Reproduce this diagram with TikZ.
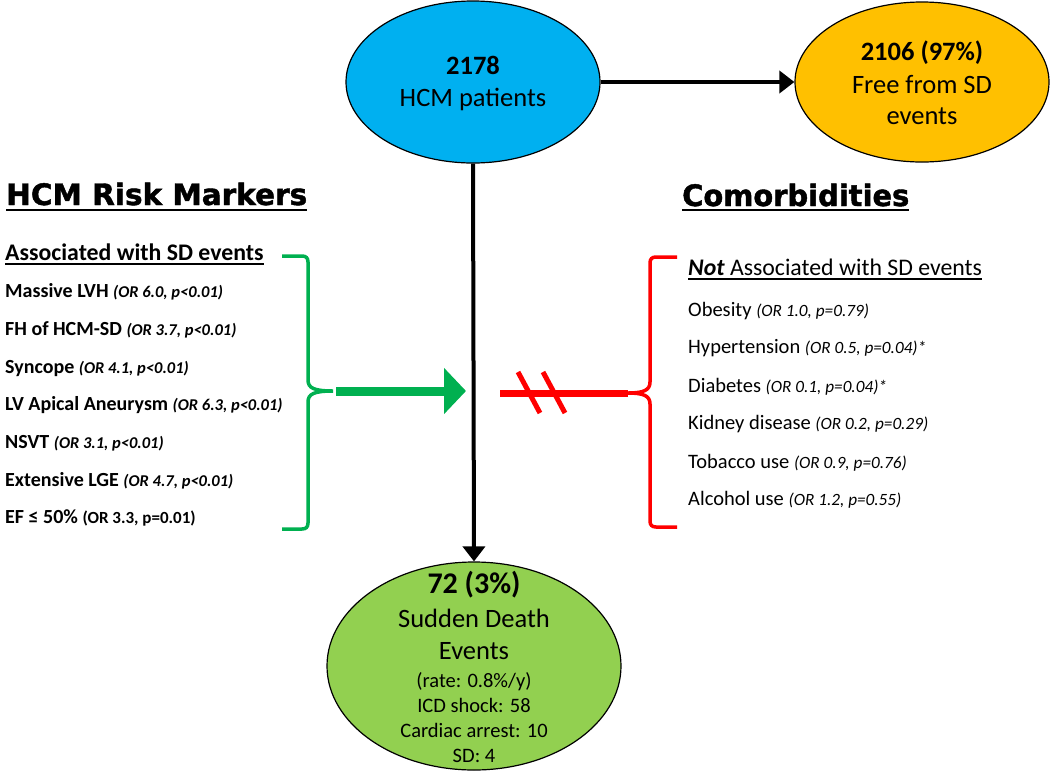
\documentclass[tikz,border=0pt]{standalone}
\usepackage{fontspec}
\setmainfont{Carlito}
\newfontfamily\headfont{DejaVu Sans}[BoldFeatures={FakeBold=1.5}]
\usetikzlibrary{shapes.geometric,arrows.meta}
\definecolor{cblue}{HTML}{00B0F0}
\definecolor{corange}{HTML}{FFC000}
\definecolor{cgreen}{HTML}{92D050}
\definecolor{gdark}{HTML}{00B050}
\definecolor{cred}{HTML}{FF0000}
\newcommand\szBig{\fontsize{26.5}{30}\selectfont}
\newcommand\szHuge{\fontsize{30}{33}\selectfont}
\newcommand\szMid{\fontsize{20.5}{24}\selectfont}
\newcommand\szSub{\fontsize{23.8}{27}\selectfont}
\newcommand\szItem{\fontsize{20}{23}\selectfont}
\newcommand\szPar{\fontsize{16.5}{19}\selectfont}
\newcommand\szRPar{\fontsize{17.2}{20}\selectfont}
\newcommand\szHead{\fontsize{29.5}{32}\selectfont}
\begin{document}
\begin{tikzpicture}[x=1pt,y=-1pt,
  oval/.style={ellipse, draw=black, line width=1.2pt, inner sep=0pt},
  ctxt/.style={inner sep=0pt, anchor=base},
  item/.style={inner sep=0pt, anchor=base west},
  flow/.style={draw=black, line width=4pt, -{Triangle[length=15pt,width=22pt]}},
  uline/.style={line width=1.3pt},
  hline/.style={line width=2pt},
  gbrace/.style={draw=gdark, line width=3.5pt},
  rbrace/.style={draw=cred, line width=3.5pt},
]
\useasboundingbox (0,0) rectangle (1050,772);

% ellipses
\node[oval, fill=cblue, minimum width=254pt, minimum height=162pt] (pat) at (473,82) {};
\node[oval, fill=corange, minimum width=254pt, minimum height=160pt] (free) at (922,82) {};
\node[oval, fill=cgreen, minimum width=294pt, minimum height=208pt] (sd) at (474,666) {};

% ellipse texts
\node[ctxt] (pat1) at (473,74) {\szBig\bfseries 2178};
\node[ctxt] (pat2) at (473,106) {\szBig HCM patients};
\node[ctxt] (free1) at (922,60) {\szBig\bfseries 2106 (97\%)};
\node[ctxt] (free2) at (922,93) {\szBig Free from SD};
\node[ctxt] (free3) at (922,124) {\szBig events};
\node[ctxt] (sd1) at (474,593) {\szHuge\bfseries 72 (3\%)};
\node[ctxt] (sd2) at (474,627) {\szBig Sudden Death};
\node[ctxt] (sd3) at (474,659) {\szBig Events};
\node[ctxt] (sd4) at (474,687) {\szMid (rate: 0.8\%/y)};
\node[ctxt] (sd5) at (474,712) {\szMid ICD shock: 58};
\node[ctxt] (sd6) at (474,737) {\szMid Cardiac arrest: 10};
\node[ctxt] (sd7) at (474,762) {\szMid SD: 4};

% flow arrows
\draw[flow] (pat.east) -- (free.west);
\draw[flow] (pat.south) -- (sd.north);

% headings
\node[item] (h1) at (6,205) {\headfont\bfseries\szHead HCM Risk Markers};
\node[item] (h2) at (682,206) {\headfont\bfseries\szHead\scalebox{0.98}[1]{Comorbidities}};
\draw[hline] ([yshift=-5pt]h1.base west) -- ([yshift=-5pt]h1.base east);
\draw[hline] ([yshift=-4pt]h2.base west) -- ([yshift=-4pt]h2.base east);

% left list
\node[item] (l0) at (5,260) {\szSub\bfseries Associated with SD events};
\draw[uline] ([yshift=-4pt]l0.base west) -- ([yshift=-4pt]l0.base east);
\node[item] (l1) at (5,297) {\szItem\bfseries Massive LVH {\szPar\itshape (OR 6.0, p<0.01)}};
\node[item] (l2) at (5,335) {\szItem\bfseries FH of HCM-SD {\szPar\itshape (OR 3.7, p<0.01)}};
\node[item] (l3) at (5,373) {\szItem\bfseries Syncope {\szPar\itshape (OR 4.1, p<0.01)}};
\node[item] (l4) at (5,410) {\szItem\bfseries LV Apical Aneurysm {\szPar\itshape (OR 6.3, p<0.01)}};
\node[item] (l5) at (5,448) {\szItem\bfseries NSVT {\szPar\itshape (OR 3.1, p<0.01)}};
\node[item] (l6) at (5,486) {\szItem\bfseries Extensive LGE {\szPar\itshape (OR 4.7, p<0.01)}};
\node[item] (l7) at (5,523) {\szItem\bfseries EF ≤ 50\% {\fontsize{17}{20}\selectfont (OR 3.3, p=0.01)}};

% right list
\node[item] (r0) at (688,275) {\szSub{\bfseries\itshape Not} Associated with SD events};
\draw[uline] ([yshift=-4pt]r0.base west) -- ([yshift=-4pt]r0.base east);
\node[item] (r1) at (688,316) {\szMid Obesity {\szRPar\itshape (OR 1.0, p=0.79)}};
\node[item] (r2) at (688,353) {\szMid Hypertension {\szRPar\itshape (OR 0.5, p=0.04)*}};
\node[item] (r3) at (688,392) {\szMid Diabetes {\szRPar\itshape (OR 0.1, p=0.04)*}};
\node[item] (r4) at (688,429) {\szMid Kidney disease {\szRPar\itshape (OR 0.2, p=0.29)}};
\node[item] (r5) at (688,468) {\szMid Tobacco use {\szRPar\itshape (OR 0.9, p=0.76)}};
\node[item] (r6) at (688,505) {\szMid Alcohol use {\szRPar\itshape (OR 1.2, p=0.55)}};

% green brace and arrow
\coordinate (gtip) at (333,391);
\coordinate (gend) at (466,391);
\draw[gbrace] (282,256) -- (302,256) .. controls (306,256) and (308,258) .. (308,262) -- (308,380)
  .. controls (308,388) and (314,391) .. (gtip)
  .. controls (314,391) and (308,394) .. (308,402) -- (308,523)
  .. controls (308,527) and (306,529) .. (302,529) -- (282,529);
\draw[draw=gdark, line width=9pt, -{Triangle[length=22pt,width=45pt]}] ([xshift=3pt]gtip) -- (gend);

% red brace and crossed line
\coordinate (rtip) at (628,393);
\coordinate (rstart) at (500,393);
\draw[rbrace] (677,257) -- (656,257) .. controls (652,257) and (650,259) .. (650,263) -- (650,382)
  .. controls (650,390) and (644,393) .. (rtip)
  .. controls (644,393) and (650,396) .. (650,404) -- (650,521)
  .. controls (650,525) and (652,527) .. (656,527) -- (677,527);
\draw[draw=cred, line width=7pt] (rstart) -- (rtip);
\draw[draw=cred, line width=5pt] (518,372) -- (540,413);
\draw[draw=cred, line width=5pt] (543,372) -- (565,413);
\end{tikzpicture}
\end{document}
